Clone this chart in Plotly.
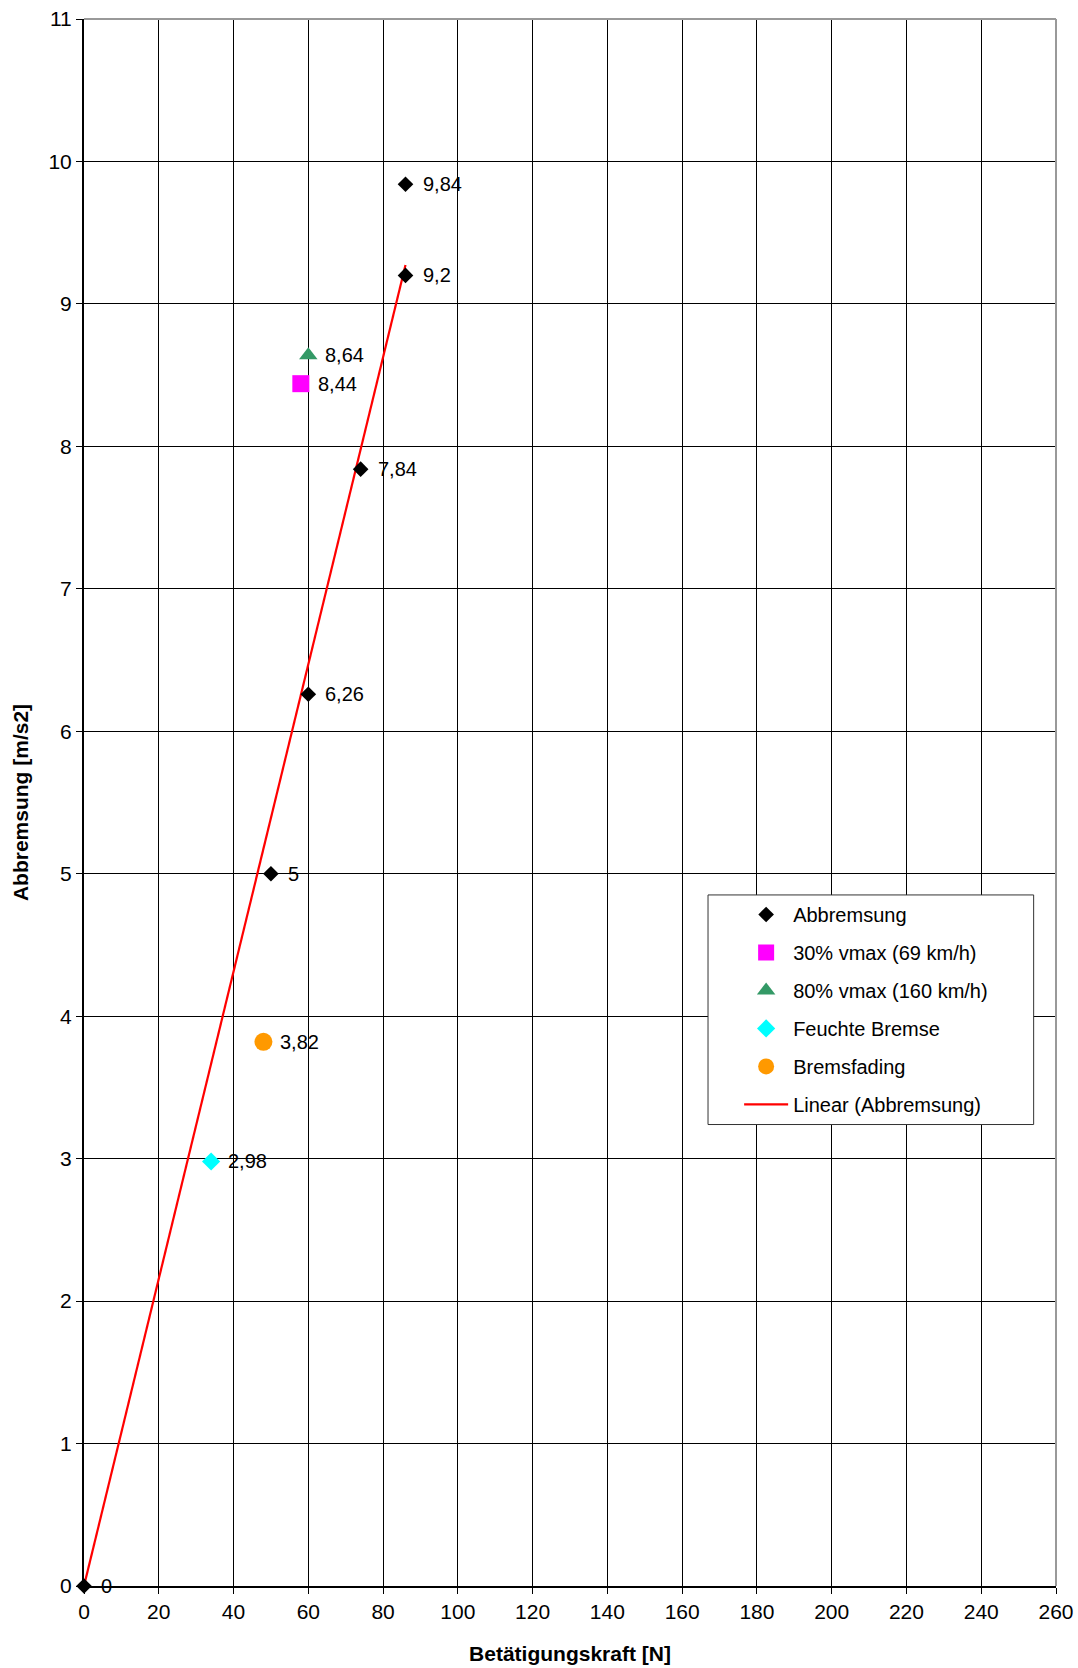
import numpy as np
import plotly.graph_objects as go

# Data
abb_x = [0, 50, 60, 74, 86, 86]
abb_y = [0, 5, 6.26, 7.84, 9.2, 9.84]
v30_x = [58]
v30_y = [8.44]
v80_x = [60]
v80_y = [8.64]
feucht_x = [34]
feucht_y = [2.98]
fading_x = [48]
fading_y = [3.82]

x_ticks = list(range(0, 261, 20))
y_ticks = list(range(0, 12))


def lab(v):
    return f"{v:g}".replace(".", ",")


# Linear trendline through origin (least squares, as Excel)
ax = np.array(abb_x, dtype=float)
ay = np.array(abb_y, dtype=float)
slope = float((ax * ay).sum() / (ax * ax).sum())
trend_x = [0, float(ax.max())]
trend_y = [slope * v for v in trend_x]

FONT = "Liberation Sans, Arial, sans-serif"
fig = go.Figure()

fig.add_trace(go.Scatter(
    x=trend_x, y=trend_y, mode="lines", name="Linear (Abbremsung)",
    line=dict(color="#ff0000", width=2.2), legendrank=6, legendgroup="g6"))

series = [
    ("Abbremsung", abb_x, abb_y, "diamond", 12, "black"),
    ("30% vmax (69 km/h)", v30_x, v30_y, "square", 17, "#ff00ff"),
    ("80% vmax (160 km/h)", v80_x, v80_y, "triangle-up", 16, "#339966"),
    ("Feuchte Bremse", feucht_x, feucht_y, "diamond", 14, "#00ffff"),
    ("Bremsfading", fading_x, fading_y, "circle", 18, "#ff9900"),
]

annotations = []
for i, (name, xs, ys, sym, sz, col) in enumerate(series):
    fig.add_trace(go.Scatter(
        x=xs, y=ys, mode="markers", name=name,
        marker=dict(symbol=sym, size=sz, color=col),
        legendrank=i + 1, legendgroup=f"g{i+1}", cliponaxis=False))
    for xv, yv in zip(xs, ys):
        annotations.append(dict(
            x=xv, y=yv, xref="x", yref="y", text=lab(yv), showarrow=False,
            xanchor="left", yanchor="middle", xshift=15,
            font=dict(family=FONT, size=20, color="black")))

# legend box (white, framed) behind the legend items
box_x0, box_x1, box_y0, box_y1 = 0.642, 0.977, 0.2945, 0.441

fig.update_layout(
    width=1078, height=1668,
    margin=dict(l=84, r=22, t=19, b=82),
    paper_bgcolor="white", plot_bgcolor="white",
    font=dict(family=FONT, size=21, color="black"),
    showlegend=True,
    legend=dict(
        x=0.674, y=0.441, xanchor="left", yanchor="top",
        bgcolor="rgba(0,0,0,0)", borderwidth=0,
        font=dict(family=FONT, size=20, color="black"),
        traceorder="grouped", tracegroupgap=9,
        itemwidth=44,
    ),
    xaxis=dict(
        range=[0, 260], tickvals=x_ticks, ticktext=[str(t) for t in x_ticks],
        showgrid=True, gridcolor="black", gridwidth=1,
        showline=True, linecolor="black", linewidth=2,
        ticks="outside", ticklen=6, tickcolor="black", zeroline=False,
        tickfont=dict(family=FONT, size=21), automargin=False,
        title=dict(text="<b>Betätigungskraft [N]</b>", standoff=24,
                   font=dict(family=FONT, size=21)),
    ),
    yaxis=dict(
        range=[0, 11], tickvals=y_ticks, ticktext=[str(t) for t in y_ticks],
        showgrid=True, gridcolor="black", gridwidth=1,
        showline=True, linecolor="black", linewidth=2,
        ticks="outside", ticklen=6, tickcolor="black", zeroline=False,
        tickfont=dict(family=FONT, size=21), automargin=False,
        title=dict(text="<b>Abbremsung [m/s2]</b>", standoff=14,
                   font=dict(family=FONT, size=21)),
    ),
    annotations=annotations,
    shapes=[
        dict(type="line", xref="paper", yref="paper", x0=0, x1=1, y0=1, y1=1,
             line=dict(color="#999999", width=2)),
        dict(type="line", xref="paper", yref="paper", x0=1, x1=1, y0=0, y1=1,
             line=dict(color="#999999", width=2)),
        dict(type="rect", xref="paper", yref="paper", layer="above",
             x0=box_x0, x1=box_x1, y0=box_y0, y1=box_y1,
             fillcolor="white", line=dict(color="#333333", width=1)),
    ],
)

fig.write_html(
    "out.html",
    config={"displayModeBar": False},
    post_script="document.body.style.margin='0';document.body.style.overflow='hidden';",
)
